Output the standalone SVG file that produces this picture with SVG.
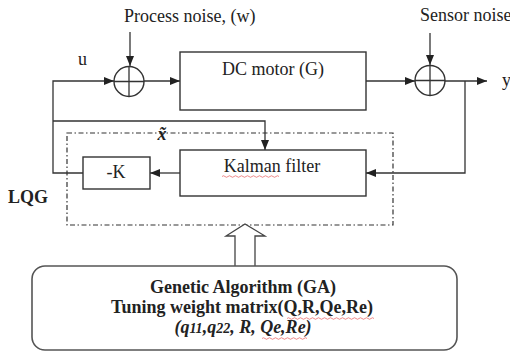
<svg xmlns="http://www.w3.org/2000/svg" width="510" height="351" viewBox="0 0 510 351">
<style>
.ln{fill:none;stroke:#333;stroke-width:1.3}
.bx{fill:#fff;stroke:#333;stroke-width:1.4}
.t{font-family:"Liberation Serif","Times New Roman",serif;font-size:18px;fill:#222}
.b{font-weight:bold}
.sq{fill:none;stroke:#e03030;stroke-width:0.8;opacity:0.7}
</style>
<defs>
<marker id="ah" markerUnits="userSpaceOnUse" markerWidth="10" markerHeight="8" refX="10" refY="4" orient="auto">
<path d="M0,0 L10,4 L0,8 z" fill="#222"/>
</marker>
</defs>
<rect width="510" height="351" fill="#fff"/>

<g id="connectors">
<path class="ln" d="M130,32 L130,66" marker-end="url(#ah)"/>
<path class="ln" d="M430,33 L430,65" marker-end="url(#ah)"/>
<path class="ln" d="M144,81 L180,81" marker-end="url(#ah)"/>
<path class="ln" d="M366,81 L415,81" marker-end="url(#ah)"/>
<path class="ln" d="M445,81 L487,81" marker-end="url(#ah)"/>
<path class="ln" d="M465,81 L465,173 L366,173" marker-end="url(#ah)"/>
<path class="ln" d="M180,173 L150,173" marker-end="url(#ah)"/>
<path class="ln" d="M83,173 L53,173 L53,81 L114,81" marker-end="url(#ah)"/>
<path class="ln" d="M53,121 L265,121 L265,150" marker-end="url(#ah)"/>
</g>

<g id="lqg">
<rect x="67" y="133" width="326" height="92" fill="none" stroke="#333" stroke-width="1.2" stroke-dasharray="5 2.5 1.5 2.5"/>
<text class="t b" x="8" y="203">LQG</text>
<text class="t b" x="162" y="140" font-style="italic" text-anchor="middle">x̃</text>
</g>

<g id="sum1">
<circle class="bx" cx="129" cy="81.5" r="15"/>
<path class="ln" d="M114,81.5 H144 M129,66.5 V96.5"/>
</g>

<g id="sum2">
<circle class="bx" cx="430" cy="80.5" r="15"/>
<path class="ln" d="M415,80.5 H445 M430,65.5 V95.5"/>
</g>

<g id="labels">
<text class="t" x="124" y="22">Process noise, (w)</text>
<text class="t" x="420" y="21">Sensor noise</text>
<text class="t" x="78" y="65">u</text>
<text class="t" x="502" y="86">y</text>
</g>

<g id="motor">
<rect class="bx" x="180" y="52" width="186" height="58"/>
<text class="t" x="273" y="75" text-anchor="middle">DC motor (G)</text>
</g>

<g id="kalman">
<rect class="bx" x="180" y="150" width="186" height="46"/>
<text class="t" x="272" y="172" text-anchor="middle">Kalman filter</text>
<path class="sq" d="M222,176.5 q1.5,-1.5 3,0 t3,0 t3,0 t3,0 t3,0 t3,0 t3,0 t3,0 t3,0 t3,0 t3,0 t3,0 t3,0 t3,0 t3,0 t3,0 t3,0 t3,0 t3,0"/>
</g>

<g id="gain">
<rect class="bx" x="83" y="157" width="67" height="32"/>
<text class="t" x="116" y="178" text-anchor="middle">-K</text>
</g>

<g id="arrow-up">
<polygon points="235,267 235,236 226,236 245,224 265,236 255,236 255,267" fill="#fff" stroke="#444" stroke-width="1.3"/>
</g>

<g id="ga">
<rect x="32" y="266" width="425" height="84" rx="13" ry="13" fill="#fff" stroke="#555" stroke-width="1.6"/>
<text class="t b" x="243" y="293" text-anchor="middle">Genetic Algorithm (GA)</text>
<text class="t b" x="242" y="313" text-anchor="middle">Tuning weight matrix(Q,R,Qe,Re)</text>
<text class="t b" x="243" y="333" text-anchor="middle" font-style="italic" font-size="17">(q<tspan font-size="14">11</tspan>,q<tspan font-size="14">22</tspan>, R, Qe,Re)</text>
<path class="sq" d="M287,318.5 q1.5,-1.5 3,0 t3,0 t3,0 t3,0 t3,0 t3,0 t3,0 t3,0 t3,0 t3,0 t3,0 t3,0 t3,0 t3,0 t3,0 t3,0 t3,0 t3,0 t3,0 t3,0 t3,0 t3,0 t3,0 t3,0 t3,0 t3,0 t3,0 t3,0 t3,0"/>
<path class="sq" d="M262,338.5 q1.5,-1.5 3,0 t3,0 t3,0 t3,0 t3,0 t3,0 t3,0 t3,0 t3,0 t3,0 t3,0 t3,0 t3,0 t3,0 t3,0"/>
</g>
</svg>
